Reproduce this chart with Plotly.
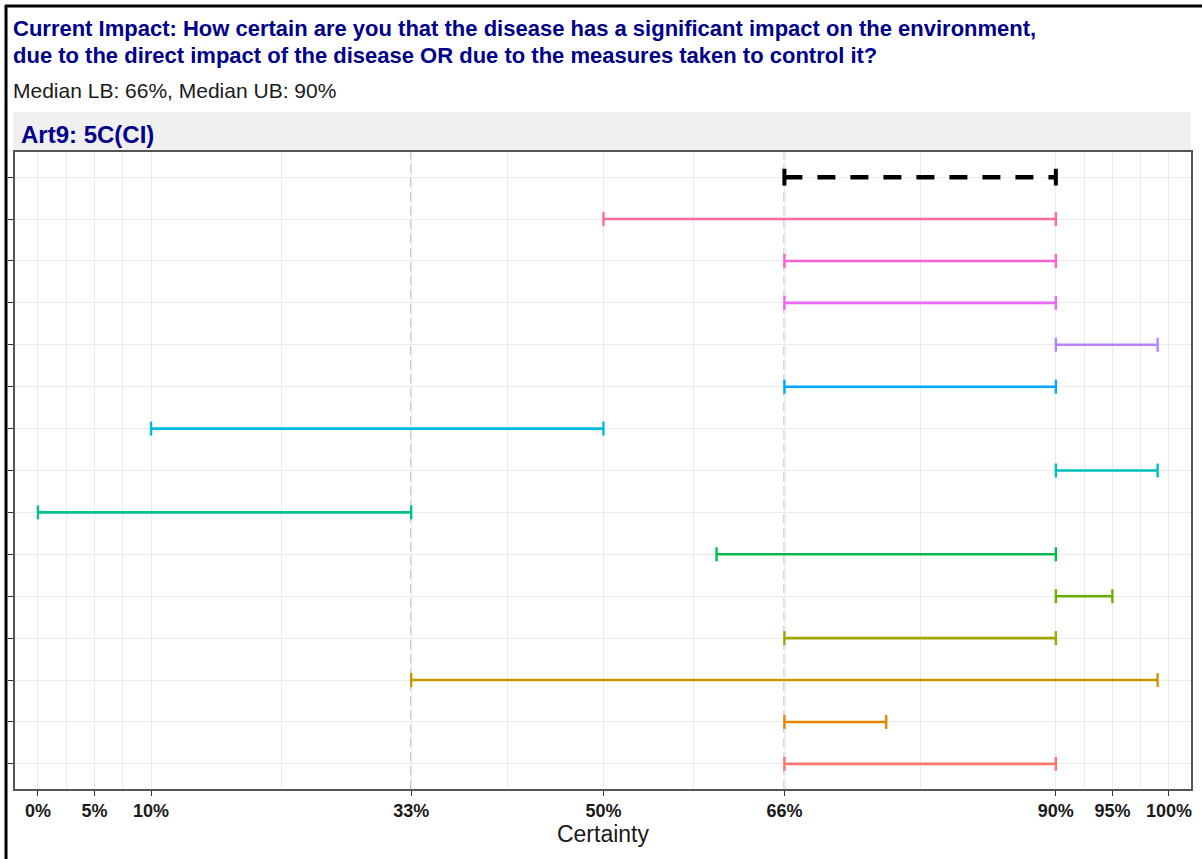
import math
import plotly.graph_objects as go

# ---------------- data ----------------
row_labels = [f"R{i}" for i in range(1, 16)]  # top -> bottom; row 1 is the median
lower = [66, 50, 66, 66, 90, 66, 10, 90, 0, 60, 90, 66, 33, 66, 66]
upper = [90, 90, 90, 90, 99, 90, 50, 99, 33, 90, 95, 90, 99, 75, 90]
row_hues = [None, 355, 330, 303, 278, 240, 215, 190, 165, 140, 112, 88, 63, 40, 15]

x_breaks = [0, 5, 10, 33, 50, 66, 90, 95, 100]
x_labels = ["0%", "5%", "10%", "33%", "50%", "66%", "90%", "95%", "100%"]
ref_lines = [33, 66]

title_lines = ["Current Impact: How certain are you that the disease has a significant impact on the environment,",
               "due to the direct impact of the disease OR due to the measures taken to control it?"]
subtitle_text = "Median LB: 66%, Median UB: 90%"
strip_text = "Art9: 5C(CI)"
x_title = "Certainty"


def hcl(h, c=100.0, l=65.0):
    hr = math.radians(h)
    U = c * math.cos(hr)
    V = c * math.sin(hr)
    Xn, Yn, Zn = 95.047, 100.0, 108.883
    Y = Yn * ((l + 16) / 116) ** 3
    den = Xn + 15 * Yn + 3 * Zn
    un, vn = 4 * Xn / den, 9 * Yn / den
    u = U / (13 * l) + un
    v = V / (13 * l) + vn
    X = 9.0 * Y * u / (4 * v)
    Z = -X / 3 - 5 * Y + 3 * Y / v
    X, Y, Z = X / 100, Y / 100, Z / 100
    r = 3.240479 * X - 1.537150 * Y - 0.498535 * Z
    g = -0.969256 * X + 1.875992 * Y + 0.041556 * Z
    b = 0.055648 * X - 0.204043 * Y + 1.057311 * Z

    def gam(x):
        x = 12.92 * x if x <= 0.0031308 else 1.055 * x ** (1 / 2.4) - 0.055
        return int(round(min(max(x, 0), 1) * 255))
    return "#%02X%02X%02X" % (gam(r), gam(g), gam(b))


# minor breaks midway between major ones
minor_breaks = [(a + b) / 2 for a, b in zip(x_breaks[:-1], x_breaks[1:])]

FONT = "Liberation Sans, Arial, sans-serif"
NAVY = "#00008B"

fig = go.Figure()

# figure geometry (pixels)
W, H = 1202, 859
ML, MR, MT, MB = 15, 9, 152, 70
PW, PH = W - ML - MR, H - MT - MB


def py(ypix):
    return (H - MB - ypix) / PH


def px(xpix):
    return (xpix - ML) / PW


for i, (lb, ub) in enumerate(zip(lower, upper)):
    y = i + 1
    if i == 0:
        col, lw, dash, cap, capw = "black", 4.5, "18px,15px", 12, 4
    else:
        col, lw, dash, cap, capw = hcl(row_hues[i]), 2.6, "solid", 10, 2.4
    fig.add_trace(go.Scatter(
        x=[lb, ub], y=[y, y], mode="lines",
        line=dict(color=col, width=lw, dash=dash),
        hoverinfo="skip", showlegend=False))
    fig.add_trace(go.Scatter(
        x=[lb, ub], y=[y, y], mode="markers",
        marker=dict(symbol="line-ns", size=cap, line=dict(color=col, width=capw)),
        hoverinfo="skip", showlegend=False))

shapes = []
for xv in ref_lines:
    shapes.append(dict(type="line", xref="x", yref="paper", x0=xv, x1=xv, y0=0, y1=1,
                       line=dict(color="#B5B5B5", width=1.8, dash="9px,5px"), layer="below"))
# strip
shapes.append(dict(type="rect", xref="paper", yref="paper", x0=px(13), x1=px(1193),
                   y0=py(150), y1=py(112), fillcolor="#F0F0F0", line=dict(width=0), layer="below"))
# outer frame (left & top)
shapes.append(dict(type="line", xref="paper", yref="paper", x0=px(6), x1=px(6),
                   y0=py(5), y1=py(H + 5), line=dict(color="black", width=3)))
shapes.append(dict(type="line", xref="paper", yref="paper", x0=px(5), x1=px(W + 5),
                   y0=py(6), y1=py(6), line=dict(color="black", width=3)))

annotations = [
    dict(text=f"<b>{title_lines[0]}</b>", xref="paper", yref="paper", x=px(11), y=py(29),
         xanchor="left", yanchor="middle", align="left", showarrow=False,
         font=dict(family=FONT, size=22, color=NAVY)),
    dict(text=f"<b>{title_lines[1]}</b>", xref="paper", yref="paper", x=px(11), y=py(56),
         xanchor="left", yanchor="middle", align="left", showarrow=False,
         font=dict(family=FONT, size=22, color=NAVY)),
    dict(text=subtitle_text, xref="paper", yref="paper", x=px(11), y=py(90),
         xanchor="left", yanchor="middle", showarrow=False,
         font=dict(family=FONT, size=21, color="#1A1A1A")),
    dict(text=f"<b>{strip_text}</b>", xref="paper", yref="paper", x=px(19), y=py(135),
         xanchor="left", yanchor="middle", showarrow=False,
         font=dict(family=FONT, size=24, color=NAVY)),
]

fig.update_layout(
    width=W, height=H,
    margin=dict(l=ML, r=MR, t=MT, b=MB, pad=0),
    paper_bgcolor="white", plot_bgcolor="white",
    shapes=shapes, annotations=annotations,
    font=dict(family=FONT),
    xaxis=dict(
        range=[-2.03, 101.95], tickmode="array", tickvals=x_breaks, ticktext=x_labels,
        tickfont=dict(family=FONT, size=18, color="#1A1A1A", weight="bold"),
        ticks="outside", ticklen=5, tickwidth=1.3, tickcolor="#333333",
        showgrid=True, gridcolor="#EBEBEB", gridwidth=1.4,
        minor=dict(tickmode="array", tickvals=minor_breaks, showgrid=True,
                   gridcolor="#EBEBEB", gridwidth=1.0, ticks=""),
        showline=True, linecolor="#555555", linewidth=1.6, mirror=True,
        zeroline=False,
        title=dict(text=x_title, font=dict(family=FONT, size=23, color="#1A1A1A"), standoff=4),
    ),
    yaxis=dict(
        range=[15.6, 0.4], tickmode="array", tickvals=list(range(1, len(lower) + 1)),
        showticklabels=False, ticks="outside", ticklen=5, tickwidth=1.3, tickcolor="#333333",
        showgrid=True, gridcolor="#EBEBEB", gridwidth=1.4,
        showline=True, linecolor="#555555", linewidth=1.6, mirror=True,
        zeroline=False,
    ),
)

fig.write_html("out.html", config={"displayModeBar": False},
               post_script="document.body.style.margin='0';document.body.style.overflow='hidden';")
